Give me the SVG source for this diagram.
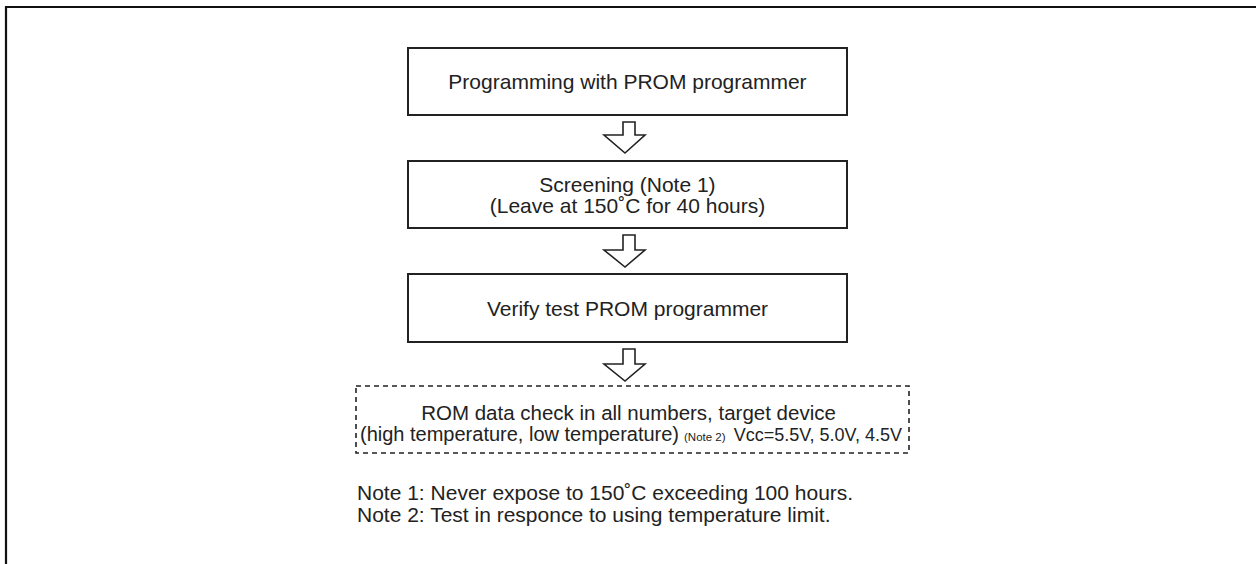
<svg xmlns="http://www.w3.org/2000/svg" width="1256" height="564" viewBox="0 0 1256 564">
<style>
  .box{fill:#fff;stroke:#222;stroke-width:2}
  .dash{fill:none;stroke:#222;stroke-width:1.6;stroke-dasharray:5 4}
  .arr{fill:#fff;stroke:#222;stroke-width:1.6;stroke-linejoin:miter}
  text{font-family:"Liberation Sans",Arial,sans-serif;fill:#222}
  .t{font-size:21px;text-anchor:middle}
  .n{font-size:21px}
</style>
<rect width="1256" height="564" fill="#fff"/>
<g id="frame">
  <path d="M1256 7 H6 V564" fill="none" stroke="#111" stroke-width="2.2"/>
</g>
<g id="connectors">
  <polygon class="arr" points="623,122 635,122 635,135 645,135 625,153 604,135 623,135"/>
  <polygon class="arr" points="623,235 635,235 635,250 645,250 625,267 604,250 623,250"/>
  <polygon class="arr" points="623,349 635,349 635,364 645,364 625,381 604,364 623,364"/>
</g>
<g id="node1">
  <rect class="box" x="408" y="48" width="439" height="67"/>
  <text class="t" x="627.5" y="89">Programming with PROM programmer</text>
</g>
<g id="node2">
  <rect class="box" x="408" y="161" width="439" height="67"/>
  <text class="t" x="627.5" y="192">Screening (Note 1)</text>
  <text class="t" x="627.5" y="213">(Leave at 150˚C for 40 hours)</text>
</g>
<g id="node3">
  <rect class="box" x="408" y="274" width="439" height="68"/>
  <text class="t" x="627.5" y="316">Verify test PROM programmer</text>
</g>
<g id="node4">
  <rect class="dash" x="356" y="386" width="553" height="67"/>
  <text x="628.5" y="420" style="font-size:20.5px;text-anchor:middle">ROM data check in all numbers, target device</text>
  <text x="360" y="441" style="font-size:20px">(high temperature, low temperature)</text>
  <text x="684" y="441" style="font-size:11.5px">(Note 2)</text>
  <text x="902" y="441" style="font-size:18px;text-anchor:end">Vcc=5.5V, 5.0V, 4.5V</text>
</g>
<g id="notes">
  <text class="n" x="357" y="500">Note 1: Never expose to 150˚C exceeding 100 hours.</text>
  <text class="n" x="357" y="522">Note 2: Test in responce to using temperature limit.</text>
</g>
</svg>
